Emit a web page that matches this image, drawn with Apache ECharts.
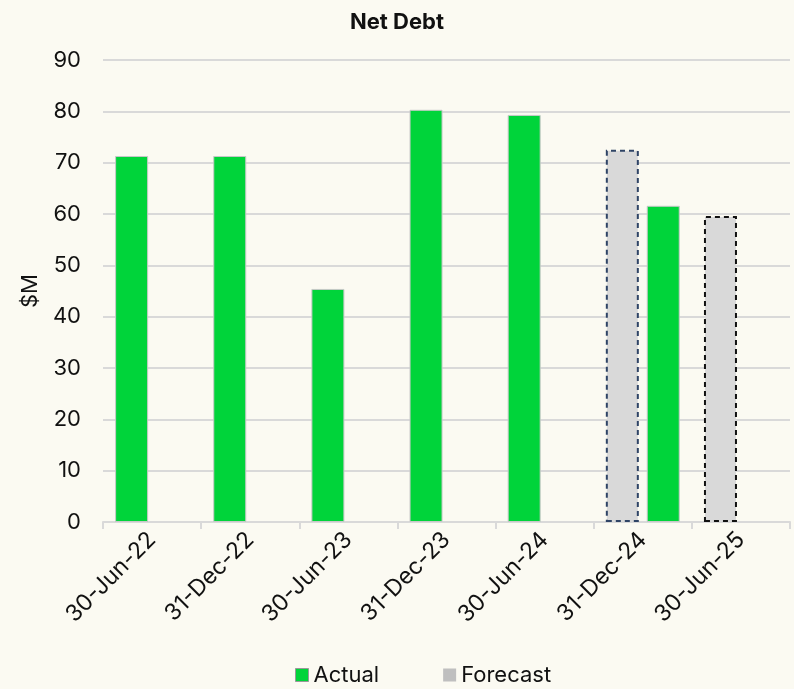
<!DOCTYPE html>
<html>
<head>
<meta charset="utf-8">
<script src="https://cdn.jsdelivr.net/npm/echarts@6/dist/echarts.min.js"></script>
<style>
  html, body { margin: 0; padding: 0; background: #fbfaf2; }
  #chart { width: 794px; height: 689px; }
</style>
</head>
<body>
<div id="chart"></div>
<script>
const categories = ['30-Jun-22', '31-Dec-22', '30-Jun-23', '31-Dec-23', '30-Jun-24', '31-Dec-24', '30-Jun-25']
// left slot: actuals, then forecasts in the last two periods
const actualLeft = [71.3, 71.3, 45.4, 80.3, 79.3, '-', '-']
const forecast = ['-', '-', '-', '-', '-', 72.5, 59.6]
// right slot: the actual figure reported alongside the 31-Dec-24 forecast
const actualRight = ['-', '-', '-', '-', '-', 61.6, '-']
const forecastBorder = ['#000', '#000', '#000', '#000', '#000', '#2f4466', '#111']

const green = '#00d43a'
const font = 'Inter'

const chart = echarts.init(document.getElementById('chart'))

const actualStyle = {
  color: green,
  borderColor: '#c8c8c8',
  borderWidth: 1
}

const option = {
  backgroundColor: '#fbfaf2',
  animation: false,
  title: {
    text: 'Net Debt',
    left: 'center',
    top: 6,
    textStyle: { fontFamily: font, fontSize: 22, fontWeight: 'bold', color: '#111' }
  },
  grid: { left: 103, right: 4, top: 60, bottom: 167 },
  legend: {
    bottom: -2,
    left: 290,
    itemGap: 64,
    itemWidth: 13,
    itemHeight: 13,
    icon: 'rect',
    textStyle: { fontFamily: font, fontSize: 22, color: '#111' },
    data: [
      { name: 'Actual', itemStyle: { color: green, borderColor: '#999', borderWidth: 1, borderType: 'solid' } },
      { name: 'Forecast', itemStyle: { color: '#bfbfbf', borderWidth: 0 } }
    ]
  },
  xAxis: {
    type: 'category',
    data: categories,
    axisLine: { lineStyle: { color: '#d9d9d9', width: 2 } },
    axisTick: { show: true, length: 7, lineStyle: { color: '#d9d9d9', width: 2 } },
    axisLabel: {
      rotate: 45,
      margin: 14,
      fontFamily: font,
      fontSize: 23,
      color: '#111'
    }
  },
  yAxis: {
    type: 'value',
    min: 0,
    max: 90,
    interval: 10,
    name: '$M',
    nameLocation: 'middle',
    nameGap: 62,
    nameRotate: 90,
    nameTextStyle: { fontFamily: font, fontSize: 22, color: '#111' },
    axisLine: { show: false },
    axisTick: { show: false },
    splitLine: { lineStyle: { color: '#d9d9d9', width: 2 } },
    axisLabel: { fontFamily: font, fontSize: 22, color: '#111', margin: 22 }
  },
  series: [
    {
      name: 'Actual',
      type: 'bar',
      stack: 'left',
      barWidth: 33,
      barGap: '24%',
      itemStyle: actualStyle,
      data: actualLeft
    },
    {
      name: 'Forecast',
      type: 'bar',
      stack: 'left',
      barWidth: 33,
      itemStyle: { color: '#d9d9d9', borderType: [5, 4], borderWidth: 2, borderColor: '#000' },
      data: forecast.map((v, i) => v === '-' ? v : {
        value: v,
        itemStyle: { borderColor: forecastBorder[i] }
      })
    },
    {
      name: 'Actual',
      type: 'bar',
      stack: 'right',
      barWidth: 33,
      barGap: '24%',
      itemStyle: actualStyle,
      data: actualRight
    }
  ]
}

chart.setOption(option)
</script>
</body>
</html>
